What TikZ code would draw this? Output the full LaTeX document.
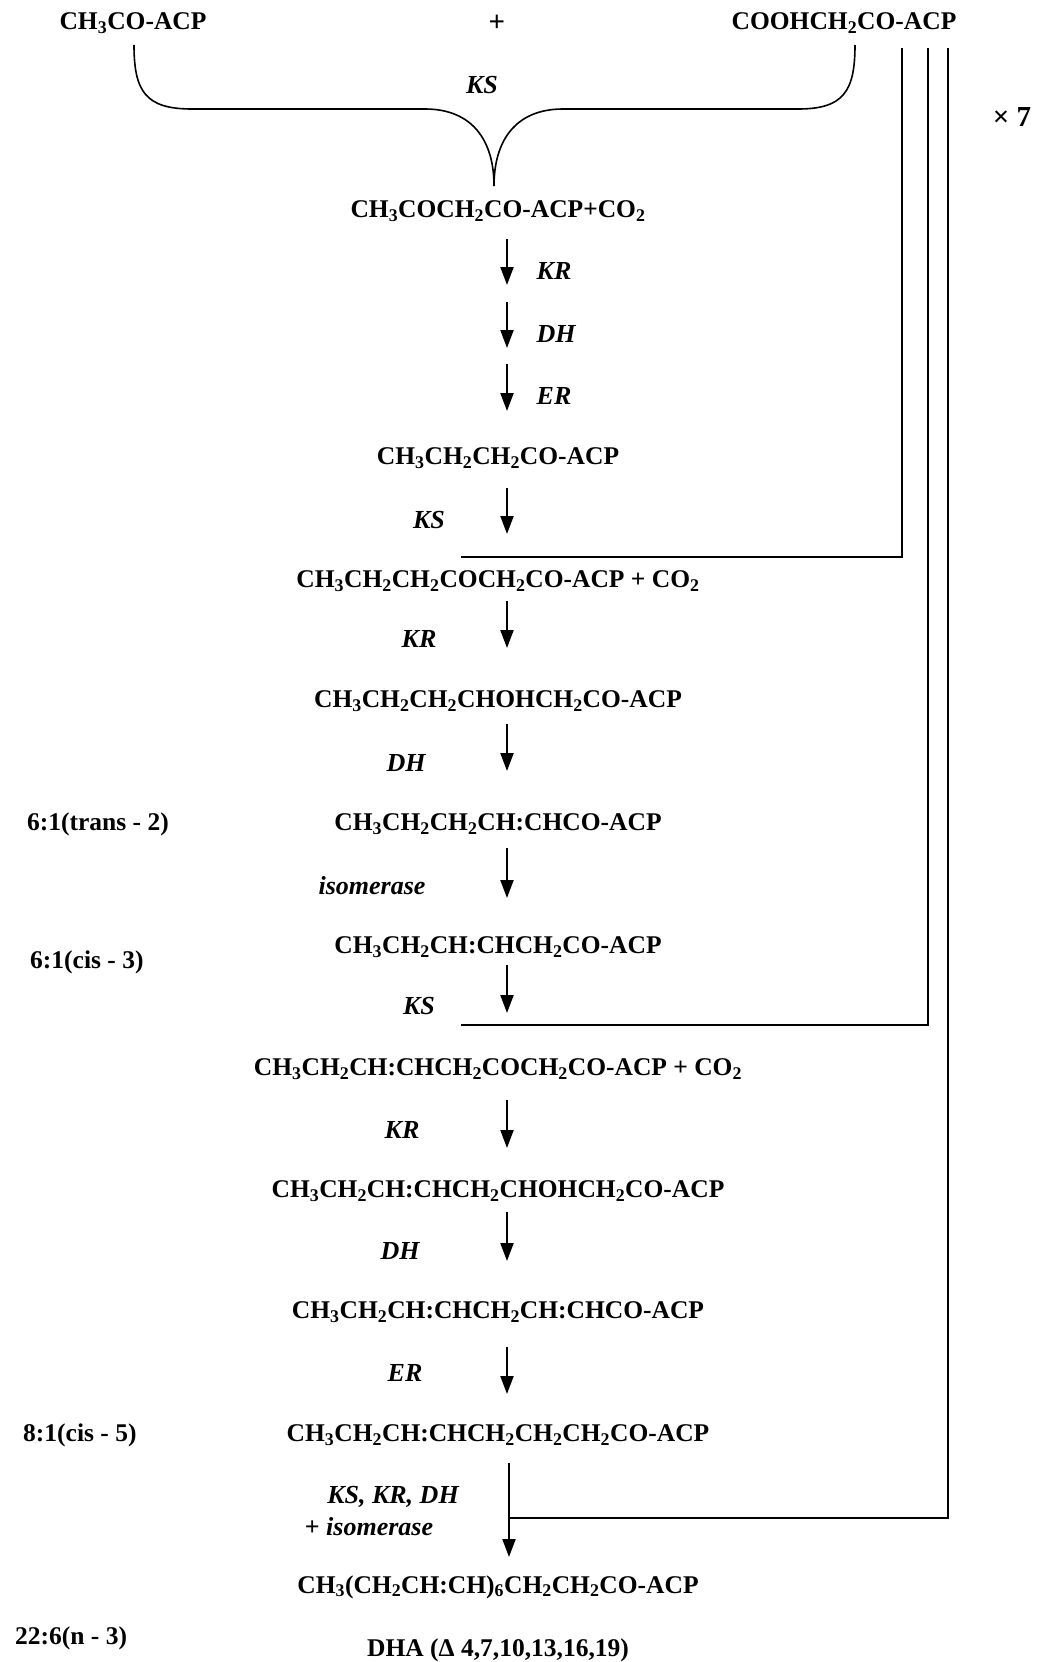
\documentclass[tikz,border=0pt]{standalone}
\usepackage{fontspec}
\setmainfont{Liberation Serif}
\usetikzlibrary{arrows.meta}

\newcommand{\chsub}[1]{\textsubscript{#1}}

\tikzset{
  mol/.style={font=\bfseries\fontsize{25.5}{30}\selectfont, inner sep=2pt},
  enz/.style={font=\bfseries\itshape\fontsize{26}{30}\selectfont, inner sep=2pt},
  rxn/.style={line width=2.2pt, -{Triangle[length=18pt,width=13pt]}},
  loopline/.style={line width=2pt},
}

\begin{document}
\begin{tikzpicture}[x=1pt,y=-1pt]
    \useasboundingbox (0,0) rectangle (1036,1662);

    % starter units
    \node[mol] (acetyl) at (133,23) {CH\chsub3CO-ACP};
    \node[mol, font=\bfseries\fontsize{29}{30}\selectfont] (plus) at (497,23) {+};
    \node[mol] (malonyl) at (844,23) {COOHCH\chsub2CO-ACP};
    \node[enz] (ks0) at (482,85) {KS};
    \node[mol, font=\bfseries\fontsize{29}{30}\selectfont] (times) at (1012,117) {× 7};

    % the brace joining both units
    \coordinate (bl) at (134,45);
    \coordinate (br) at (855,45);
    \coordinate (btip) at (494,186);
    \draw[line width=1.6pt] (bl) .. controls (134,92) and (146,109) .. (192,109) -- (425,109)
        .. controls (472,109) and (494,140) .. (btip);
    \draw[line width=1.6pt] (br) .. controls (855,92) and (843,109) .. (798,109) -- (563,109)
        .. controls (516,109) and (494,140) .. (btip);

    % intermediates
    \node[mol] (m1) at (498,211) {CH\chsub3COCH\chsub2CO-ACP+CO\chsub2};
    \node[mol] (m2) at (498,458) {CH\chsub3CH\chsub2CH\chsub2CO-ACP};
    \node[mol] (m3) at (498,581) {CH\chsub3CH\chsub2CH\chsub2COCH\chsub2CO-ACP + CO\chsub2};
    \node[mol] (m4) at (498,701) {CH\chsub3CH\chsub2CH\chsub2CHOHCH\chsub2CO-ACP};
    \node[mol] (m5) at (498,824) {CH\chsub3CH\chsub2CH\chsub2CH:CHCO-ACP};
    \node[mol] (m6) at (498,947) {CH\chsub3CH\chsub2CH:CHCH\chsub2CO-ACP};
    \node[mol] (m7) at (498,1069) {CH\chsub3CH\chsub2CH:CHCH\chsub2COCH\chsub2CO-ACP + CO\chsub2};
    \node[mol] (m8) at (498,1191) {CH\chsub3CH\chsub2CH:CHCH\chsub2CHOHCH\chsub2CO-ACP};
    \node[mol] (m9) at (498,1312) {CH\chsub3CH\chsub2CH:CHCH\chsub2CH:CHCO-ACP};
    \node[mol] (m10) at (498,1435) {CH\chsub3CH\chsub2CH:CHCH\chsub2CH\chsub2CH\chsub2CO-ACP};
    \node[mol] (m11) at (498,1587) {CH\chsub3(CH\chsub2CH:CH)\chsub6CH\chsub2CH\chsub2CO-ACP};
    \node[mol] (dha) at (498,1650) {DHA (Δ 4,7,10,13,16,19)};

    % chain lengths
    \node[mol, anchor=west] (c61t) at (25,824) {6:1(trans - 2)};
    \node[mol, anchor=west] (c61c) at (28,962) {6:1(cis - 3)};
    \node[mol, anchor=west] (c81) at (21,1435) {8:1(cis - 5)};
    \node[mol, anchor=west] (c226) at (13,1638) {22:6(n - 3)};

    % reaction steps
    \foreach \n/\x/\a/\b in {kr1/507/239/285, dh1/507/302/348, er1/507/364/411,
        ks1/507/488/534, kr2/507/601/648, dh2/507/724/771, iso/507/848/898,
        ks2/507/965/1013, kr3/507/1100/1148, dh3/507/1212/1261, er2/507/1347/1394,
        fin/509/1463/1557}
    {
        \coordinate (\n-top) at (\x,\a);
        \coordinate (\n-tip) at (\x,\b);
        \draw[rxn] (\n-top) -- (\n-tip);
    }

    \node[enz] (lkr1) at (554,271) {KR};
    \node[enz] (ldh1) at (556,334) {DH};
    \node[enz] (ler1) at (554,396) {ER};
    \node[enz] (lks1) at (429,520) {KS};
    \node[enz] (lkr2) at (419,639) {KR};
    \node[enz] (ldh2) at (406,763) {DH};
    \node[enz] (liso) at (372,886) {isomerase};
    \node[enz] (lks2) at (419,1006) {KS};
    \node[enz] (lkr3) at (402,1130) {KR};
    \node[enz] (ldh3) at (400,1251) {DH};
    \node[enz] (ler2) at (405,1373) {ER};
    \node[enz] (lfin) at (393,1497) {KS, KR, DH};
    \node[enz] (lfin2) at (369,1527) {\upshape+ \itshape isomerase};

    % malonyl feed for each round
    \coordinate (j1top) at (902,48);
    \coordinate (j1) at (902,557);
    \coordinate (j1end) at (461,557);
    \coordinate (j2top) at (928,48);
    \coordinate (j2) at (928,1025);
    \coordinate (j2end) at (461,1025);
    \coordinate (j3top) at (948,48);
    \coordinate (j3) at (948,1518);
    \draw[loopline] (j1top) -- (j1) -- (j1end);
    \draw[loopline] (j2top) -- (j2) -- (j2end);
    \draw[loopline] (j3top) -- (j3) -- (j3 -| fin-top);
\end{tikzpicture}
\end{document}
